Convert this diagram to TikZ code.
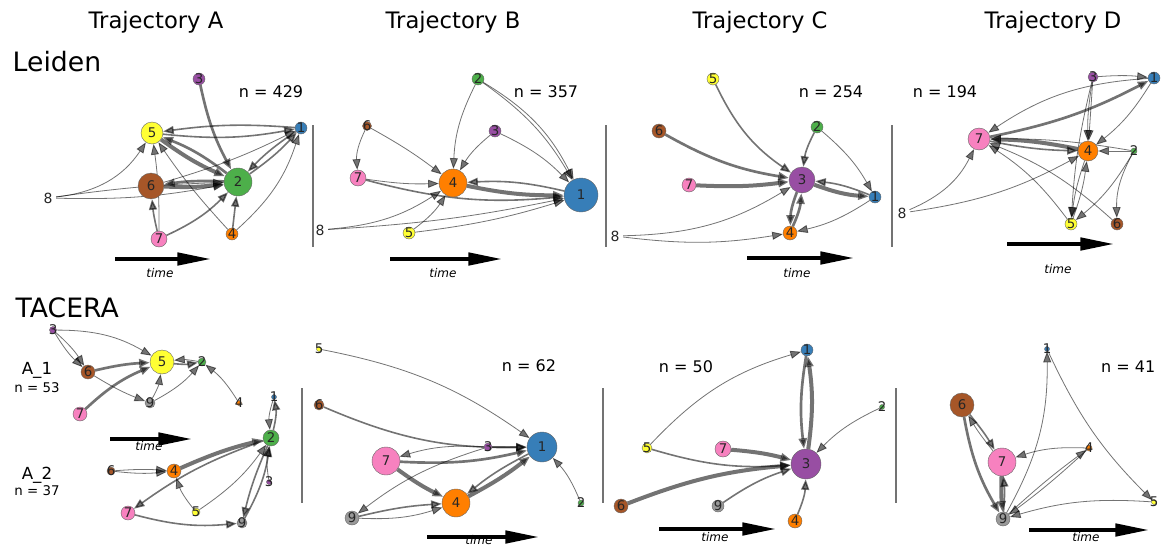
\documentclass[tikz,border=0pt]{standalone}
\usepackage{fontspec}
\setmainfont{DejaVu Sans}
\setsansfont{DejaVu Sans}
\usetikzlibrary{arrows.meta}
\definecolor{c1}{HTML}{377EB8}
\definecolor{c2}{HTML}{4DAF4A}
\definecolor{c3}{HTML}{984EA3}
\definecolor{c4}{HTML}{FF7F00}
\definecolor{c5}{HTML}{FFFF33}
\definecolor{c6}{HTML}{A65628}
\definecolor{c7}{HTML}{F781BF}
\definecolor{c9}{HTML}{999999}
\pgfdeclarelayer{edgelayer}
\pgfsetlayers{edgelayer,main}
\newcommand\gnode[5]{\node[gn, minimum size=#2*1.5pt, fill=#3, label={[lb]center:#4}] (#1) at (#5) {};}
\newcommand\enode[2]{\node[en] (#1) at (#2) {8};}
\begin{document}
\begin{tikzpicture}[x=0.75pt,y=-0.75pt,
  gn/.style={circle, draw=black!60, line width=0.3pt, inner sep=0pt},
  lb/.style={inner sep=0pt, font=\fontsize{10}{10}\selectfont, text=black!85},
  en/.style={circle, inner sep=0.5pt, minimum size=10pt, font=\fontsize{10.5}{10.5}\selectfont, text=black!85},
  eb/.style={draw=black, opacity=0.55, -{Triangle[length=8pt,width=6pt]}},
  e1/.style={eb, line width=0.6pt},
  e2/.style={eb, line width=1.2pt},
  e3/.style={eb, line width=2pt},
  e4/.style={eb, line width=3pt},
  ttl/.style={font=\fontsize{17}{17}\selectfont},
  big/.style={font=\fontsize{20}{20}\selectfont, anchor=west},
  ncount/.style={font=\fontsize{12}{12}\selectfont},
  sep/.style={draw=black!55, line width=0.8pt},
  tarrow/.style={line width=3.5pt, -{Triangle[length=26pt,width=9pt]}},
  tlab/.style={font=\itshape\fontsize{9}{9}\selectfont},
  rlab/.style={font=\fontsize{12.5}{12.5}\selectfont},
  rn/.style={font=\fontsize{10}{10}\selectfont}
]
\useasboundingbox (0,0) rectangle (1161,546);
\clip (0,0) rectangle (1161,546);

% titles
\node[ttl] (tA) at (156,22) {Trajectory A};
\node[ttl] (tB) at (453,22) {Trajectory B};
\node[ttl] (tC) at (760,22) {Trajectory C};
\node[ttl] (tD) at (1053,22) {Trajectory D};
\node[big] (leiden) at (8,62) {Leiden};
\node[big] (tacera) at (11,308) {TACERA};

% separators
\draw[sep] (313,125) -- (313,247);
\draw[sep] (606,125) -- (606,247);
\draw[sep] (892,125) -- (892,247);
\draw[sep] (302,388) -- (302,503);
\draw[sep] (603,388) -- (603,503);
\draw[sep] (896,388) -- (896,503);

% n labels
\node[ncount] (nA) at (271,92) {n = 429};
\node[ncount] (nB) at (546,92) {n = 357};
\node[ncount] (nC) at (831,92) {n = 254};
\node[ncount] (nD) at (945,92) {n = 194};
\node[ncount] (nTB) at (529,366) {n = 62};
\node[ncount] (nTC) at (686,367) {n = 50};
\node[ncount, anchor=east] (nTD) at (1160,367) {n = 41};
\node[rlab] (a1) at (37,370) {A\_1};
\node[rn] (a1n) at (37,388) {n = 53};
\node[rlab] (a2) at (37,475) {A\_2};
\node[rn] (a2n) at (37,491) {n = 37};

% time arrows
\coordinate (ta1) at (115,259); \coordinate (ta2) at (212,259);
\coordinate (tb1) at (390,259); \coordinate (tb2) at (503,259);
\coordinate (tc1) at (747,258); \coordinate (tc2) at (855,258);
\coordinate (td1) at (1007,244); \coordinate (td2) at (1115,244);
\coordinate (te1) at (110,439); \coordinate (te2) at (193,439);
\coordinate (tf1) at (427,537); \coordinate (tf2) at (540,537);
\coordinate (tg1) at (659,529); \coordinate (tg2) at (777,529);
\coordinate (th1) at (1029,530); \coordinate (th2) at (1150,530);
\draw[tarrow] (ta1) -- (ta2); \node[tlab] (tla) at (160,273) {time};
\draw[tarrow] (tb1) -- (tb2); \node[tlab] (tlb) at (443,273) {time};
\draw[tarrow] (tc1) -- (tc2); \node[tlab] (tlc) at (797,273) {time};
\draw[tarrow] (td1) -- (td2); \node[tlab] (tld) at (1058,269) {time};
\draw[tarrow] (te1) -- (te2); \node[tlab] (tle) at (149,446) {time};
\draw[tarrow] (tf1) -- (tf2); \node[tlab] (tlf) at (479,540) {time};
\draw[tarrow] (tg1) -- (tg2); \node[tlab] (tlg) at (715,537) {time};
\draw[tarrow] (th1) -- (th2); \node[tlab] (tlh) at (1086,537) {time};

% ---------- Leiden A ----------
\gnode{LA3}{6}{c3}{3}{199,79}
\gnode{LA5}{11}{c5}{5}{152,133}
\gnode{LA1}{6}{c1}{1}{301,128}
\gnode{LA6}{13}{c6}{6}{151,186}
\gnode{LA2}{14}{c2}{2}{238,182}
\enode{LA8}{48,198}
\gnode{LA7}{8}{c7}{7}{159,239}
\gnode{LA4}{6}{c4}{4}{232,234}
\begin{pgfonlayer}{edgelayer}
\draw[e3] (LA3) to[bend right=8] (LA2);
\draw[e2] (LA5) to[bend right=8] (LA1);
\draw[e2] (LA1) to[bend right=6] (LA5);
\draw[e4] (LA5) to[bend right=6] (LA2);
\draw[e3] (LA2) to[bend right=8] (LA5);
\draw[e2] (LA1) to[bend right=6] (LA2);
\draw[e2] (LA2) to[bend right=6] (LA1);
\draw[e4] (LA6) to[bend right=5] (LA2);
\draw[e3] (LA2) to[bend right=5] (LA6);
\draw[e1] (LA8) to[bend right=25] (LA5);
\draw[e1] (LA8) to[bend left=3] (LA2);
\draw[e1] (LA8) to[bend right=6] (LA2);
\draw[e1] (LA6) to[bend right=5] (LA1);
\draw[e2] (LA7) to[bend left=4] (LA6);
\draw[e1] (LA7) to[bend right=4] (LA5);
\draw[e2] (LA7) to[bend right=10] (LA2);
\draw[e2] (LA4) to (LA2);
\draw[e1] (LA4) to[bend right=15] (LA1);
\draw[e1] (LA4) to[bend left=4] (LA5);
\end{pgfonlayer}

% ---------- Leiden B ----------
\gnode{LB2}{6}{c2}{2}{478,79}
\gnode{LB6}{4.5}{c6}{6}{367,126}
\gnode{LB3}{6}{c3}{3}{495,131}
\gnode{LB7}{8}{c7}{7}{358,178}
\gnode{LB4}{14}{c4}{4}{453,183}
\gnode{LB1}{17}{c1}{1}{581,195}
\enode{LB8}{320,230}
\gnode{LB5}{6}{c5}{5}{409,233}
\begin{pgfonlayer}{edgelayer}
\draw[e1] (LB2) to[bend right=12] (LB4);
\draw[e1] (LB2) to[bend left=12] (LB1);
\draw[e1] (LB2) to[bend left=16] (LB1);
\draw[e1] (LB3) to[bend right=10] (LB4);
\draw[e1] (LB3) to[bend left=10] (LB1);
\draw[e1] (LB6) to[bend right=15] (LB7);
\draw[e1] (LB6) to[bend left=4] (LB4);
\draw[e1] (LB7) to[bend right=5] (LB4);
\draw[e2] (LB7) to[bend right=10] (LB1);
\draw[e4] (LB4) to[bend right=6] (LB1);
\draw[e2] (LB1) to[bend right=8] (LB4);
\draw[e1] (LB8) to[bend right=14] (LB4);
\draw[e1] (LB8) to[bend right=4] (LB1);
\draw[e1] (LB5) to[bend right=10] (LB4);
\draw[e1] (LB5) to[bend right=5] (LB1);
\end{pgfonlayer}

% ---------- Leiden C ----------
\gnode{LC5}{6}{c5}{5}{713,79}
\gnode{LC6}{7}{c6}{6}{659,131}
\gnode{LC2}{6}{c2}{2}{817,127}
\gnode{LC7}{7}{c7}{7}{689,185}
\gnode{LC3}{13}{c3}{3}{802,180}
\gnode{LC1}{6}{c1}{1}{875,197}
\enode{LC8}{615,236}
\gnode{LC4}{7}{c4}{4}{790,233}
\begin{pgfonlayer}{edgelayer}
\draw[e2] (LC5) to[bend right=15] (LC3);
\draw[e3] (LC6) to[bend right=10] (LC3);
\draw[e4] (LC7) to[bend right=5] (LC3);
\draw[e1] (LC8) to[bend right=15] (LC3);
\draw[e1] (LC8) to[bend right=8] (LC4);
\draw[e2] (LC2) to[bend right=10] (LC3);
\draw[e1] (LC2) to[bend left=10] (LC1);
\draw[e4] (LC3) to[bend right=8] (LC1);
\draw[e2] (LC1) to[bend right=8] (LC3);
\draw[e3] (LC3) to[bend right=10] (LC4);
\draw[e3] (LC4) to[bend right=10] (LC3);
\draw[e1] (LC1) to[bend left=10] (LC4);
\end{pgfonlayer}

% ---------- Leiden D ----------
\gnode{LD3}{5}{c3}{3}{1093,77}
\gnode{LD1}{6}{c1}{1}{1154,78}
\gnode{LD7}{11}{c7}{7}{979,139}
\gnode{LD4}{10}{c4}{4}{1088,151}
\gnode{LD2}{3}{c2}{2}{1134,151}
\enode{LD8}{902,213}
\gnode{LD5}{6}{c5}{5}{1071,224}
\gnode{LD6}{6}{c6}{6}{1117,224}
\begin{pgfonlayer}{edgelayer}
\draw[e1] (LD3) to[bend left=5] (LD1);
\draw[e1] (LD1) to[bend right=15] (LD7);
\draw[e3] (LD7) to[bend right=8] (LD1);
\draw[e1] (LD1) to[bend left=10] (LD4);
\draw[e1] (LD3) to (LD4);
\draw[e1] (LD3) to[bend right=5] (LD4);
\draw[e1] (LD3) to[bend right=5] (LD5);
\draw[e4] (LD4) to[bend right=5] (LD7);
\draw[e2] (LD7) to[bend right=5] (LD4);
\draw[e1] (LD2) to (LD4);
\draw[e1] (LD2) to[bend right=5] (LD7);
\draw[e1] (LD2) to[bend left=10] (LD5);
\draw[e1] (LD2) to[bend right=15] (LD6);
\draw[e1] (LD8) to[bend right=20] (LD7);
\draw[e1] (LD8) to[bend right=10] (LD4);
\draw[e1] (LD5) to[bend right=10] (LD7);
\draw[e1] (LD5) to[bend right=6] (LD4);
\draw[e1] (LD4) to[bend right=6] (LD5);
\draw[e1] (LD6) to[bend right=10] (LD7);
\end{pgfonlayer}

% ---------- TACERA A_1 ----------
\gnode{TA3}{3.5}{c3}{3}{53,330}
\gnode{TA5}{12}{c5}{5}{162,362}
\gnode{TA2}{4}{c2}{2}{202,362}
\gnode{TA6}{7}{c6}{6}{88,372}
\gnode{TA9}{5}{c9}{9}{150,403}
\gnode{TA4}{2.5}{c4}{4}{239,403}
\gnode{TA7}{7}{c7}{7}{80,414}
\begin{pgfonlayer}{edgelayer}
\draw[e1] (TA3) to[bend right=8] (TA6);
\draw[e1] (TA3) to[bend left=8] (TA6);
\draw[e1] (TA3) to[bend left=15] (TA5);
\draw[e3] (TA6) to[bend left=5] (TA5);
\draw[e1] (TA6) to[bend right=5] (TA9);
\draw[e3] (TA7) to[bend left=10] (TA5);
\draw[e1] (TA9) to[bend right=10] (TA5);
\draw[e1] (TA9) to[bend right=10] (TA2);
\draw[e2] (TA5) to[bend right=8] (TA2);
\draw[e1] (TA2) to[bend right=8] (TA5);
\draw[e1] (TA4) to[bend right=10] (TA2);
\end{pgfonlayer}

% ---------- TACERA A_2 ----------
\gnode{TB1}{2.5}{c1}{1}{274,397}
\gnode{TB2}{8}{c2}{2}{271,438}
\gnode{TB6}{4}{c6}{6}{111,471}
\gnode{TB4}{7}{c4}{4}{174,471}
\gnode{TB3}{2.5}{c3}{3}{269,482}
\gnode{TB7}{7}{c7}{7}{128,513}
\gnode{TB5}{4}{c5}{5}{196,512}
\gnode{TB9}{5}{c9}{9}{242,523}
\begin{pgfonlayer}{edgelayer}
\draw[e1] (TB6) to[bend right=6] (TB4);
\draw[e1] (TB6) to[bend left=4] (TB4);
\draw[e4] (TB4) to[bend left=5] (TB2);
\draw[e1] (TB1) to[bend right=12] (TB2);
\draw[e2] (TB2) to[bend right=12] (TB1);
\draw[e2] (TB2) to[bend right=8] (TB7);
\draw[e2] (TB7) to[bend right=10] (TB9);
\draw[e1] (TB5) to[bend left=10] (TB4);
\draw[e1] (TB5) to[bend right=10] (TB2);
\draw[e2] (TB2) to[bend right=5] (TB9);
\draw[e2] (TB9) to[bend right=10] (TB2);
\draw[e1] (TB3) to[bend left=10] (TB2);
\end{pgfonlayer}

% ---------- TACERA B ----------
\gnode{TC5}{2.5}{c5}{5}{319,349}
\gnode{TC6}{5}{c6}{6}{319,405}
\gnode{TC3}{4}{c3}{3}{488,447}
\gnode{TC1}{15}{c1}{1}{542,447}
\gnode{TC7}{14}{c7}{7}{386,461}
\gnode{TC4}{14}{c4}{4}{456,503}
\gnode{TC2}{3}{c2}{2}{581,503}
\gnode{TC9}{7}{c9}{9}{352,518}
\begin{pgfonlayer}{edgelayer}
\draw[e1] (TC5) to[bend left=12] (TC1);
\draw[e2] (TC6) to[bend right=12] (TC1);
\draw[e2] (TC3) to (TC1);
\draw[e1] (TC3) to[bend right=10] (TC7);
\draw[e1] (TC3) to[bend right=10] (TC9);
\draw[e3] (TC7) to[bend right=8] (TC1);
\draw[e4] (TC7) to[bend right=5] (TC4);
\draw[e4] (TC4) to[bend right=5] (TC1);
\draw[e2] (TC1) to[bend right=6] (TC4);
\draw[e2] (TC9) to[bend left=5] (TC4);
\draw[e1] (TC9) to[bend right=10] (TC4);
\draw[e1] (TC2) to[bend right=10] (TC1);
\end{pgfonlayer}

% ---------- TACERA C ----------
\gnode{TD1}{6}{c1}{1}{807,350}
\gnode{TD2}{2.5}{c2}{2}{882,407}
\gnode{TD5}{5}{c5}{5}{647,448}
\gnode{TD7}{8}{c7}{7}{723,449}
\gnode{TD3}{15}{c3}{3}{806,464}
\gnode{TD6}{7}{c6}{6}{621,506}
\gnode{TD9}{6}{c9}{9}{718,506}
\gnode{TD4}{7}{c4}{4}{795,521}
\begin{pgfonlayer}{edgelayer}
\draw[e3] (TD1) to[bend right=8] (TD3);
\draw[e4] (TD3) to[bend right=8] (TD1);
\draw[e1] (TD5) to[bend left=15] (TD1);
\draw[e2] (TD5) to[bend right=10] (TD3);
\draw[e4] (TD7) to[bend left=5] (TD3);
\draw[e4] (TD6) to[bend left=8] (TD3);
\draw[e2] (TD9) to[bend left=8] (TD3);
\draw[e2] (TD4) to[bend right=10] (TD3);
\draw[e1] (TD2) to[bend right=10] (TD3);
\end{pgfonlayer}

% ---------- TACERA D ----------
\gnode{TE1}{2.5}{c1}{1}{1047,349}
\gnode{TE6}{12}{c6}{6}{962,405}
\gnode{TE7}{14}{c7}{7}{1002,462}
\gnode{TE4}{3}{c4}{4}{1089,448}
\gnode{TE5}{2.5}{c5}{5}{1154,502}
\gnode{TE9}{7}{c9}{9}{1003,519}
\begin{pgfonlayer}{edgelayer}
\draw[e2] (TE6) to[bend left=4] (TE7);
\draw[e1] (TE7) to[bend left=4] (TE6);
\draw[e3] (TE6) to[bend right=10] (TE9);
\draw[e4] (TE7) to[bend right=3] (TE9);
\draw[e2] (TE9) to[bend right=5] (TE7);
\draw[e1] (TE9) to[bend right=15] (TE1);
\draw[e1] (TE1) to[bend right=10] (TE5);
\draw[e1] (TE4) to[bend right=10] (TE7);
\draw[e1] (TE9) to[bend left=3] (TE4);
\draw[e1] (TE4) to[bend left=3] (TE9);
\draw[e1] (TE5) to[bend right=10] (TE9);
\end{pgfonlayer}
\end{tikzpicture}
\end{document}
